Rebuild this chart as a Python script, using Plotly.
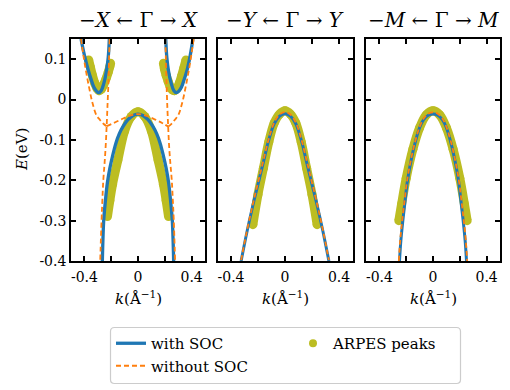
import plotly.graph_objects as go

# ---------------- data ----------------
# Panel 1: -X <- Gamma -> X
soc_x_hole_k = [-0.266, -0.256, -0.243, -0.228, -0.21, -0.19, -0.165, -0.14, -0.11, -0.075, -0.04, 0,
                0.04, 0.075, 0.11, 0.14, 0.165, 0.19, 0.21, 0.228, 0.243, 0.256, 0.266]
soc_x_hole_E = [-0.4, -0.3, -0.25, -0.205, -0.17, -0.14, -0.108, -0.085, -0.066, -0.05, -0.04, -0.036,
                -0.04, -0.05, -0.066, -0.085, -0.108, -0.14, -0.17, -0.205, -0.25, -0.3, -0.4]
soc_x_eL_k = [-0.425, -0.40, -0.372, -0.35, -0.33, -0.31, -0.294, -0.275, -0.255, -0.236, -0.222, -0.214]
soc_x_eL_E = [0.15, 0.11, 0.074, 0.05, 0.031, 0.021, 0.017, 0.022, 0.04, 0.07, 0.105, 0.15]
soc_x_eR_k = [0.207, 0.215, 0.228, 0.248, 0.268, 0.287, 0.305, 0.325, 0.345, 0.37, 0.39, 0.41]
soc_x_eR_E = [0.15, 0.105, 0.07, 0.04, 0.022, 0.017, 0.021, 0.031, 0.05, 0.078, 0.11, 0.15]

nosoc_x_w_k = [-0.425, -0.41, -0.39, -0.365, -0.34, -0.31, -0.285, -0.258, -0.234,
               -0.18, -0.124, -0.06, 0, 0.06, 0.124, 0.18,
               0.225, 0.25, 0.275, 0.3, 0.33, 0.355, 0.38, 0.4, 0.415]
nosoc_x_w_E = [0.15, 0.115, 0.074, 0.03, -0.008, -0.039, -0.05, -0.06, -0.066,
               -0.058, -0.049, -0.04, -0.036, -0.04, -0.049, -0.058,
               -0.067, -0.06, -0.05, -0.039, -0.008, 0.03, 0.074, 0.115, 0.15]
nosoc_x_sL_k = [-0.212, -0.216, -0.221, -0.227, -0.234, -0.242, -0.25, -0.259, -0.266, -0.272, -0.282]
nosoc_x_sR_k = [0.204, 0.208, 0.213, 0.218, 0.225, 0.233, 0.242, 0.252, 0.26, 0.267, 0.277]
nosoc_x_s_E = [0.15, 0.1, 0.04, -0.01, -0.066, -0.12, -0.16, -0.2, -0.25, -0.3, -0.4]

arpes_x_hole_k = [-0.228, -0.21, -0.19, -0.15, -0.1, -0.05, 0, 0.05, 0.1, 0.15, 0.19, 0.21, 0.228]
arpes_x_hole_E = [-0.29, -0.25, -0.21, -0.15, -0.078, -0.042, -0.03, -0.042, -0.078, -0.15, -0.21, -0.25, -0.29]
arpes_x_eL_k = [-0.368, -0.355, -0.34, -0.322, -0.305, -0.29, -0.273, -0.255, -0.238, -0.222, -0.21, -0.205]
arpes_x_eL_E = [0.098, 0.08, 0.06, 0.04, 0.027, 0.022, 0.026, 0.038, 0.052, 0.068, 0.082, 0.09]
arpes_x_eR_k = [0.19, 0.197, 0.21, 0.225, 0.24, 0.257, 0.272, 0.29, 0.308, 0.325, 0.342, 0.358]
arpes_x_eR_E = [0.09, 0.076, 0.06, 0.045, 0.032, 0.024, 0.022, 0.027, 0.04, 0.058, 0.078, 0.098]

# Panel 2: -Y <- Gamma -> Y
soc_y_k = [-0.325, -0.28, -0.24, -0.2, -0.16, -0.12, -0.08, -0.04, 0, 0.04, 0.08, 0.12, 0.16, 0.2, 0.24, 0.28, 0.325]
soc_y_E = [-0.4, -0.325, -0.265, -0.21, -0.155, -0.1, -0.06, -0.041, -0.035, -0.041, -0.06, -0.1, -0.155, -0.21, -0.265, -0.325, -0.4]
nosoc_y_E = [-0.398, -0.322, -0.262, -0.206, -0.151, -0.097, -0.057, -0.037, -0.031, -0.037, -0.057, -0.097, -0.151, -0.206, -0.262, -0.322, -0.398]
arpes_y_k = [-0.238, -0.2, -0.16, -0.12, -0.08, -0.04, 0, 0.04, 0.08, 0.12, 0.16, 0.2, 0.238]
arpes_y_E = [-0.31, -0.235, -0.17, -0.105, -0.058, -0.036, -0.028, -0.036, -0.058, -0.105, -0.17, -0.235, -0.31]

# Panel 3: -M <- Gamma -> M
soc_m_k = [-0.25, -0.24, -0.225, -0.208, -0.19, -0.16, -0.128, -0.1, -0.07, -0.035, 0,
           0.035, 0.07, 0.1, 0.128, 0.16, 0.19, 0.208, 0.225, 0.24, 0.25]
soc_m_E = [-0.4, -0.35, -0.3, -0.25, -0.2, -0.145, -0.1, -0.07, -0.05, -0.039, -0.036,
           -0.039, -0.05, -0.07, -0.1, -0.145, -0.2, -0.25, -0.3, -0.35, -0.4]
nosoc_m_k = [-0.255, -0.245, -0.23, -0.212, -0.193, -0.162, -0.13, -0.1, -0.07, -0.035, 0,
             0.035, 0.07, 0.1, 0.13, 0.162, 0.193, 0.212, 0.23, 0.245, 0.255]
nosoc_m_E = [-0.4, -0.35, -0.3, -0.25, -0.2, -0.145, -0.1, -0.068, -0.047, -0.035, -0.032,
             -0.035, -0.047, -0.068, -0.1, -0.145, -0.2, -0.25, -0.3, -0.35, -0.4]
arpes_m_k = [-0.255, -0.235, -0.2, -0.15, -0.1, -0.05, 0, 0.05, 0.1, 0.15, 0.2, 0.235, 0.255]
arpes_m_E = [-0.3, -0.26, -0.195, -0.123, -0.07, -0.038, -0.028, -0.038, -0.07, -0.123, -0.195, -0.26, -0.3]

titles = ["−<i>X</i> ← Γ → <i>X</i>", "−<i>Y</i> ← Γ → <i>Y</i>", "−<i>M</i> ← Γ → <i>M</i>"]
x_tickvals = [-0.4, 0, 0.4]
x_ticktext = ["-0.4", "0", "0.4"]
x_minor_tickvals = [-0.2, 0.2]
y_tickvals = [-0.4, -0.3, -0.2, -0.1, 0, 0.1]
y_ticktext = ["-0.4", "-0.3", "-0.2", "-0.1", "0", "0.1"]

BLUE = "#1f77b4"
ORANGE = "#ff7f0e"
OLIVE = "#bcbd22"
FONT = "DejaVu Serif"

fig = go.Figure()


def arpes(k, E, ax):
    fig.add_trace(go.Scatter(x=k, y=E, xaxis=ax[0], yaxis=ax[1], mode="lines+markers",
                             line=dict(color=OLIVE, width=9, shape="spline"),
                             marker=dict(color=OLIVE, size=9, line=dict(width=0)),
                             showlegend=False, hoverinfo="skip"))


def soc(k, E, ax, width=3.3, legend=False):
    fig.add_trace(go.Scatter(x=k, y=E, xaxis=ax[0], yaxis=ax[1], mode="lines",
                             line=dict(color=BLUE, width=width, shape="spline"),
                             name="with SOC", showlegend=legend, legend="legend",
                             legendrank=1, hoverinfo="skip"))


def nosoc(k, E, ax, legend=False):
    fig.add_trace(go.Scatter(x=k, y=E, xaxis=ax[0], yaxis=ax[1], mode="lines",
                             line=dict(color=ORANGE, width=1.8, dash="5px,3px", shape="spline"),
                             name="without SOC", showlegend=legend, legend="legend",
                             legendrank=2, hoverinfo="skip"))


A1, A2, A3 = ("x", "y"), ("x2", "y2"), ("x3", "y3")

# ARPES (bottom layer)
arpes(arpes_x_hole_k, arpes_x_hole_E, A1)
arpes(arpes_x_eL_k, arpes_x_eL_E, A1)
arpes(arpes_x_eR_k, arpes_x_eR_E, A1)
arpes(arpes_y_k, arpes_y_E, A2)
arpes(arpes_m_k, arpes_m_E, A3)

# with SOC
soc(soc_x_hole_k, soc_x_hole_E, A1, legend=True)
soc(soc_x_eL_k, soc_x_eL_E, A1)
soc(soc_x_eR_k, soc_x_eR_E, A1)
soc(soc_y_k, soc_y_E, A2, width=3)
soc(soc_m_k, soc_m_E, A3, width=3)

# without SOC
nosoc(nosoc_x_w_k[:9], nosoc_x_w_E[:9], A1, legend=True)
nosoc(nosoc_x_w_k[8:17], nosoc_x_w_E[8:17], A1)
nosoc(nosoc_x_w_k[16:], nosoc_x_w_E[16:], A1)
nosoc(nosoc_x_sL_k, nosoc_x_s_E, A1)
nosoc(nosoc_x_sR_k, nosoc_x_s_E, A1)
nosoc(soc_y_k, nosoc_y_E, A2)
nosoc(nosoc_m_k, nosoc_m_E, A3)

# legend-only entry for ARPES peaks (second legend column)
fig.add_trace(go.Scatter(x=[None], y=[None], mode="markers", xaxis="x", yaxis="y",
                         marker=dict(color=OLIVE, size=8), name="ARPES peaks",
                         showlegend=True, legend="legend2"))

W, H = 510, 390
xdoms = [[71 / W, 205 / W], [217.5 / W, 352.5 / W], [366 / W, 500 / W]]
ydom = [1 - 261 / H, 1 - 39 / H]

tick_style = dict(ticks="inside", ticklen=5, tickwidth=1.5, tickcolor="black")
axis_common = dict(showline=True, linecolor="black", linewidth=1.6, mirror="ticks",
                   showgrid=False, zeroline=False,
                   tickfont=dict(family=FONT, size=14, color="black"), **tick_style)

legend_common = dict(orientation="v", y=1 - 327 / H, xanchor="left", yanchor="top",
                     bgcolor="rgba(0,0,0,0)", borderwidth=0, itemwidth=30,
                     font=dict(family=FONT, size=15, color="black"))

layout = dict(width=W, height=H, autosize=False,
              margin=dict(l=0, r=0, t=0, b=0, autoexpand=False),
              paper_bgcolor="white", plot_bgcolor="white",
              font=dict(family=FONT, size=15, color="black"),
              legend=dict(x=111 / W, traceorder="normal", **legend_common),
              legend2=dict(x=293 / W, **legend_common))

for i, name in enumerate(["", "2", "3"]):
    layout["xaxis" + name] = dict(domain=xdoms[i], range=[-0.5, 0.5], anchor="y" + name,
                                  tickvals=x_tickvals, ticktext=x_ticktext, ticklabelstandoff=2,
                                  minor=dict(tickvals=x_minor_tickvals, **tick_style),
                                  **axis_common)
    layout["yaxis" + name] = dict(domain=ydom, range=[-0.4, 0.15], anchor="x" + name,
                                  tickvals=y_tickvals, ticktext=y_ticktext,
                                  showticklabels=(i == 0), **axis_common)

annotations = []
for i, t in enumerate(titles):
    cx = (xdoms[i][0] + xdoms[i][1]) / 2
    annotations.append(dict(text=t, x=cx, y=1 - 20 / H, xanchor="center", yanchor="middle",
                            xref="paper", yref="paper", showarrow=False,
                            font=dict(family=FONT, size=20, color="black")))
    annotations.append(dict(text="<i>k</i>(Å<sup>−1</sup>)", x=cx, xanchor="center", yanchor="middle",
                            y=1 - 298 / H, xref="paper", yref="paper", showarrow=False,
                            font=dict(family=FONT, size=15, color="black")))
annotations.append(dict(text="<i>E</i>(eV)", x=22 / W, y=1 - 150 / H, xanchor="center", yanchor="middle",
                        xref="paper", yref="paper", showarrow=False, textangle=-90,
                        font=dict(family=FONT, size=15, color="black")))
layout["annotations"] = annotations

# legend frame (rounded rectangle) spanning both legend columns
bx0, bx1, by0, by1, r = 110.5, 460.5, 327.5, 383.5, 4


def px(x):
    return x / W


def py(y):
    return 1 - y / H


frame = (f"M {px(bx0 + r)},{py(by0)} L {px(bx1 - r)},{py(by0)} "
         f"Q {px(bx1)},{py(by0)} {px(bx1)},{py(by0 + r)} L {px(bx1)},{py(by1 - r)} "
         f"Q {px(bx1)},{py(by1)} {px(bx1 - r)},{py(by1)} L {px(bx0 + r)},{py(by1)} "
         f"Q {px(bx0)},{py(by1)} {px(bx0)},{py(by1 - r)} L {px(bx0)},{py(by0 + r)} "
         f"Q {px(bx0)},{py(by0)} {px(bx0 + r)},{py(by0)} Z")
layout["shapes"] = [dict(type="path", path=frame, xref="paper", yref="paper",
                         line=dict(color="#cccccc", width=1.2), fillcolor="white", layer="above")]

fig.update_layout(**layout)
fig.write_html("out.html", config={"displayModeBar": False})
